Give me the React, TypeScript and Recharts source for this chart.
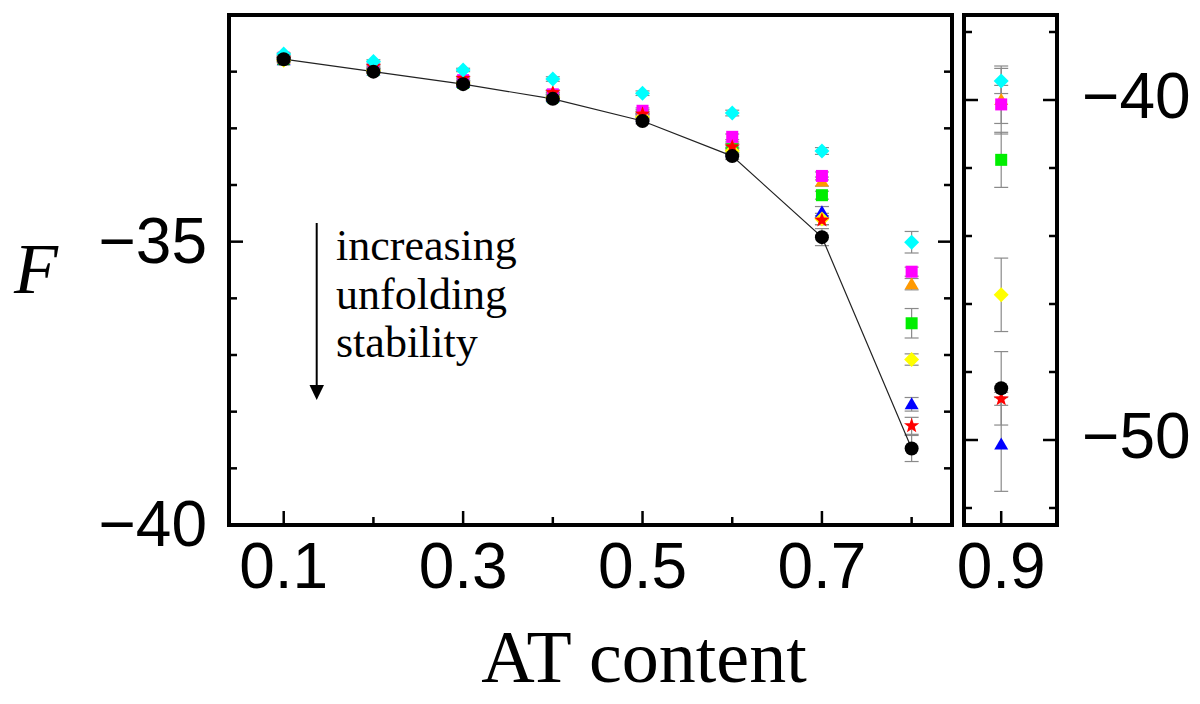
import React from "react";
import { ScatterChart, Scatter, XAxis, YAxis, ErrorBar, ReferenceArea } from "recharts";

// AT content; the last entry (0.9) lives in the narrow right-hand panel
const AT = [0.1, 0.2, 0.3, 0.4, 0.5, 0.6, 0.7, 0.8, 0.9];

const F_BLUE = [-31.8, -31.98, -32.2, -32.45, -32.8, -33.42, -34.48, -37.87, -50.13];
const ERR_BLUE = [0.03, 0.03, 0.04, 0.05, 0.05, 0.07, 0.1, 0.12, 1.38];
const F_ORANGE = [-31.77, -31.95, -32.17, -32.42, -32.72, -33.3, -33.94, -35.75, -40.0];
const ERR_ORANGE = [0.03, 0.03, 0.04, 0.05, 0.05, 0.06, 0.08, 0.1, 1.0];
const F_GREEN = [-31.78, -31.97, -32.2, -32.45, -32.78, -33.37, -34.18, -36.44, -41.76];
const ERR_GREEN = [0.03, 0.03, 0.04, 0.05, 0.05, 0.06, 0.07, 0.26, 0.81];
const F_MAGENTA = [-31.75, -31.93, -32.15, -32.4, -32.69, -33.15, -33.84, -35.53, -40.13];
const ERR_MAGENTA = [0.03, 0.03, 0.04, 0.04, 0.05, 0.05, 0.07, 0.08, 0.56];
const F_YELLOW = [-31.8, -31.98, -32.2, -32.45, -32.8, -33.4, -34.6, -37.08, -45.73];
const ERR_YELLOW = [0.03, 0.03, 0.04, 0.05, 0.05, 0.06, 0.1, 0.1, 1.08];
const F_RED = [-31.78, -31.91, -32.12, -32.37, -32.75, -33.33, -34.62, -38.25, -48.79];
const ERR_RED = [0.03, 0.03, 0.04, 0.05, 0.05, 0.06, 0.08, 0.15, 0.19];
const F_CYAN = [-31.69, -31.82, -31.97, -32.13, -32.38, -32.73, -33.4, -35.01, -39.44];
const ERR_CYAN = [0.02, 0.03, 0.03, 0.04, 0.04, 0.05, 0.06, 0.19, 0.37];
const F_BLACK = [-31.78, -32.0, -32.22, -32.48, -32.87, -33.49, -34.92, -38.65, -48.48];
const ERR_BLACK = [0.03, 0.03, 0.04, 0.04, 0.05, 0.06, 0.15, 0.23, 1.08];

const MAIN_X_DOMAIN = [0.039, 0.845];
const MAIN_Y_DOMAIN = [-40, -31];
const MAIN_X_TICKS = [0.1, 0.2, 0.3, 0.4, 0.5, 0.6, 0.7, 0.8];
const MAIN_X_LABELS = [0.1, 0.3, 0.5, 0.7];
const MAIN_Y_TICKS = [-40, -39, -38, -37, -36, -35, -34, -33, -32];
const MAIN_Y_LABELS = [-40, -35];

const INSET_X_DOMAIN = [0.86, 0.96];
const INSET_Y_DOMAIN = [-52.5, -37.5];
const INSET_X_TICKS = [0.9];
const INSET_Y_TICKS = [-52, -50, -48, -46, -44, -42, -40, -38];
const INSET_Y_LABELS = [-50, -40];

// drawing order: first listed is at the bottom
const SERIES = [
  { name: "blue", kind: "triangle", color: "#0000ff", f: F_BLUE, err: ERR_BLUE },
  { name: "orange", kind: "triangle", color: "#ff9900", f: F_ORANGE, err: ERR_ORANGE },
  { name: "green", kind: "square", color: "#00ee00", f: F_GREEN, err: ERR_GREEN },
  { name: "magenta", kind: "square", color: "#ff00ff", f: F_MAGENTA, err: ERR_MAGENTA },
  { name: "yellow", kind: "diamond", color: "#ffff00", f: F_YELLOW, err: ERR_YELLOW },
  { name: "red", kind: "star", color: "#ff0000", f: F_RED, err: ERR_RED },
  { name: "cyan", kind: "diamond", color: "#00ffff", f: F_CYAN, err: ERR_CYAN },
  { name: "black", kind: "circle", color: "#000000", f: F_BLACK, err: ERR_BLACK },
];

const mainData = (s: (typeof SERIES)[number]) =>
  AT.slice(0, 8).map((x, i) => ({ x, y: s.f[i], err: s.err[i] }));
const insetData = (s: (typeof SERIES)[number]) => [{ x: AT[8], y: s.f[8], err: s.err[8] }];

const SANS = "'Liberation Sans', Arial, Helvetica, sans-serif";
const SERIF = "'Liberation Serif', 'Times New Roman', Times, serif";

function Marker(props: any) {
  const { cx, cy, kind, color } = props;
  if (cx == null || cy == null) return null;
  if (kind === "circle") return <circle cx={cx} cy={cy} r={7} fill={color} />;
  if (kind === "square") return <rect x={cx - 6} y={cy - 6} width={12} height={12} fill={color} />;
  if (kind === "diamond")
    return <path d={`M${cx},${cy - 7.5}L${cx + 7.5},${cy}L${cx},${cy + 7.5}L${cx - 7.5},${cy}Z`} fill={color} />;
  if (kind === "triangle")
    return <path d={`M${cx},${cy - 7}L${cx + 7},${cy + 5}L${cx - 7},${cy + 5}Z`} fill={color} />;
  // star
  const pts: string[] = [];
  for (let k = 0; k < 10; k++) {
    const r = k % 2 === 0 ? 8 : 3.3;
    const a = -Math.PI / 2 + (k * Math.PI) / 5;
    pts.push(`${cx + r * Math.cos(a)},${cy + r * Math.sin(a)}`);
  }
  return <polygon points={pts.join(" ")} fill={color} />;
}

const fmt = (v: number, digits: number) =>
  v < 0 ? "\u2212" + Math.abs(v).toFixed(digits) : v.toFixed(digits);

function AxisTick(props: any) {
  const { x, y, payload, side, majors, labels, domain, digits } = props;
  const v = payload.value;
  const near = (list: number[]) => list.some((m) => Math.abs(m - v) < 1e-9);
  const inside = v > domain[0] + 1e-9 && v < domain[1] - 1e-9;
  const len = near(majors) ? 14 : 8;
  const label = near(labels) ? fmt(v, digits) : null;
  let line = null;
  let text = null;
  if (side === "bottom") {
    if (inside) line = <line x1={x} y1={y} x2={x} y2={y - len} />;
    if (label)
      text = (
        <text x={x} y={y + 63} textAnchor="middle">
          {label}
        </text>
      );
  } else if (side === "top") {
    if (inside) line = <line x1={x} y1={y} x2={x} y2={y + len} />;
  } else if (side === "left") {
    if (inside) line = <line x1={x} y1={y} x2={x + len} y2={y} />;
    if (label)
      text = (
        <text x={x - 22} y={y + 21} textAnchor="end">
          {label}
        </text>
      );
  } else {
    if (inside) line = <line x1={x} y1={y} x2={x - len} y2={y} />;
    if (label)
      text = (
        <text x={x + 25} y={y + 18} textAnchor="start">
          {label}
        </text>
      );
  }
  return (
    <g>
      {line && <g stroke="#000" strokeWidth={2.5}>{line}</g>}
      {text && (
        <g fill="#000" fontSize={64} fontFamily={SANS}>
          {text}
        </g>
      )}
    </g>
  );
}

function Panel(props: {
  left: number;
  width: number;
  yWidthLeft: number;
  yWidthRight: number;
  xDomain: number[];
  yDomain: number[];
  xTicks: number[];
  xMajors: number[];
  xLabels: number[];
  yTicks: number[];
  yMajors: number[];
  yLabelsLeft: number[];
  yLabelsRight: number[];
  inset: boolean;
}) {
  const p = props;
  const pick = p.inset ? insetData : mainData;
  return (
    <div style={{ position: "absolute", left: p.left, top: 0 }}>
      <ScatterChart
        width={p.width}
        height={704}
        margin={{ top: 15, right: 0, bottom: 0, left: 0 }}
        style={{ overflow: "visible" }}
      >
        <XAxis
          xAxisId={0}
          type="number"
          dataKey="x"
          orientation="bottom"
          domain={p.xDomain}
          allowDataOverflow
          ticks={p.xTicks}
          interval={0}
          height={179}
          axisLine={false}
          tickLine={false}
          tickSize={0}
          tickMargin={0}
          tick={<AxisTick side="bottom" majors={p.xMajors} labels={p.xLabels} domain={p.xDomain} digits={1} />}
        />
        <XAxis
          xAxisId="t"
          type="number"
          dataKey="x"
          orientation="top"
          domain={p.xDomain}
          allowDataOverflow
          ticks={p.xTicks}
          interval={0}
          height={0}
          axisLine={false}
          tickLine={false}
          tickSize={0}
          tickMargin={0}
          tick={<AxisTick side="top" majors={p.xMajors} labels={[]} domain={p.xDomain} digits={1} />}
        />
        <YAxis
          yAxisId={0}
          type="number"
          dataKey="y"
          orientation="left"
          domain={p.yDomain}
          allowDataOverflow
          ticks={p.yTicks}
          interval={0}
          width={p.yWidthLeft}
          axisLine={false}
          tickLine={false}
          tickSize={0}
          tickMargin={0}
          tick={<AxisTick side="left" majors={p.yMajors} labels={p.yLabelsLeft} domain={p.yDomain} digits={0} />}
        />
        <YAxis
          yAxisId="r"
          type="number"
          dataKey="y"
          orientation="right"
          domain={p.yDomain}
          allowDataOverflow
          ticks={p.yTicks}
          interval={0}
          width={p.yWidthRight}
          axisLine={false}
          tickLine={false}
          tickSize={0}
          tickMargin={0}
          tick={<AxisTick side="right" majors={p.yMajors} labels={p.yLabelsRight} domain={p.yDomain} digits={0} />}
        />

        {/* error bars and the connecting line first, under every marker */}
        {SERIES.map((s) => (
          <Scatter
            key={"err-" + s.name}
            data={pick(s)}
            isAnimationActive={false}
            shape={() => <g />}
            line={!p.inset && s.name === "black" ? { stroke: "#222", strokeWidth: 1.2 } : false}
            lineType="joint"
          >
            <ErrorBar dataKey="err" direction="y" width={7} stroke="#8a8a8a" strokeWidth={1.2} isAnimationActive={false} />
          </Scatter>
        ))}
        {SERIES.map((s) => (
          <Scatter
            key={"pts-" + s.name}
            data={pick(s)}
            isAnimationActive={false}
            shape={(sp: any) => <Marker {...sp} kind={s.kind} color={s.color} />}
          />
        ))}

        <ReferenceArea
          x1={p.xDomain[0]}
          x2={p.xDomain[1]}
          y1={p.yDomain[0]}
          y2={p.yDomain[1]}
          fill="none"
          stroke="#000"
          strokeWidth={4}
          ifOverflow="visible"
        />
      </ScatterChart>
    </div>
  );
}

export default function App() {
  return (
    <div
      style={{
        position: "fixed",
        left: 0,
        top: 0,
        width: 1200,
        height: 704,
        background: "#fff",
        overflow: "hidden",
      }}
    >
      <Panel
        left={0}
        width={962}
        yWidthLeft={229}
        yWidthRight={10}
        xDomain={MAIN_X_DOMAIN}
        yDomain={MAIN_Y_DOMAIN}
        xTicks={MAIN_X_TICKS}
        xMajors={MAIN_X_LABELS}
        xLabels={MAIN_X_LABELS}
        yTicks={MAIN_Y_TICKS}
        yMajors={MAIN_Y_LABELS}
        yLabelsLeft={MAIN_Y_LABELS}
        yLabelsRight={[]}
        inset={false}
      />
      <Panel
        left={954}
        width={246}
        yWidthLeft={10}
        yWidthRight={143}
        xDomain={INSET_X_DOMAIN}
        yDomain={INSET_Y_DOMAIN}
        xTicks={INSET_X_TICKS}
        xMajors={INSET_X_TICKS}
        xLabels={INSET_X_TICKS}
        yTicks={INSET_Y_TICKS}
        yMajors={INSET_Y_LABELS}
        yLabelsLeft={[]}
        yLabelsRight={INSET_Y_LABELS}
        inset={true}
      />
      <svg
        width={1200}
        height={704}
        style={{ position: "absolute", left: 0, top: 0, pointerEvents: "none" }}
      >
        <text x={14} y={293} fontFamily={SERIF} fontStyle="italic" fontSize={72} fill="#000">
          F
        </text>
        <text x={644} y={682} fontFamily={SERIF} fontSize={74} textAnchor="middle" fill="#000">
          AT content
        </text>
        <g fontFamily={SERIF} fontSize={44} fill="#000">
          <text x={336} y={260}>increasing</text>
          <text x={336} y={309}>unfolding</text>
          <text x={336} y={357}>stability</text>
        </g>
        <line x1={316.7} y1={223} x2={316.7} y2={388} stroke="#000" strokeWidth={2} />
        <polygon points="309.5,385 324,385 316.7,400" fill="#000" />
      </svg>
    </div>
  );
}
